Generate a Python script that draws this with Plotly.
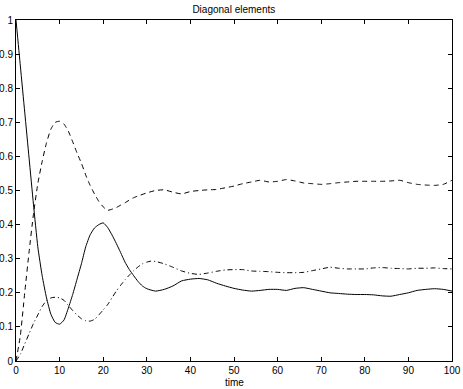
import plotly.graph_objects as go

# values
t_solid = [0, 1, 2, 3, 4, 5, 6, 7, 8, 9, 10, 11, 12, 13, 14, 15, 16, 17, 18, 19,
           20, 21, 22, 23, 24, 25, 26, 27, 28, 29, 30, 32, 34, 36, 38, 40, 42, 44,
           46, 48, 50, 52, 54, 56, 58, 60, 62, 64, 66, 68, 70, 72, 74, 76, 78, 80,
           82, 84, 86, 88, 90, 92, 94, 96, 98, 100]
solid = [1.00, 0.865, 0.73, 0.595, 0.46, 0.335, 0.25, 0.185, 0.137, 0.113, 0.108,
         0.12, 0.155, 0.195, 0.24, 0.285, 0.335, 0.37, 0.39, 0.40, 0.405, 0.392,
         0.37, 0.345, 0.318, 0.29, 0.268, 0.25, 0.233, 0.22, 0.212, 0.205, 0.21,
         0.22, 0.235, 0.24, 0.242, 0.238, 0.228, 0.22, 0.213, 0.208, 0.205, 0.207,
         0.21, 0.21, 0.207, 0.213, 0.215, 0.21, 0.205, 0.2, 0.198, 0.196, 0.195,
         0.195, 0.194, 0.191, 0.19, 0.195, 0.2, 0.207, 0.21, 0.212, 0.21, 0.205]

t_dashed = [0, 1, 2, 3, 4, 5, 6, 7, 8, 9, 10, 11, 12, 13, 14, 15, 16, 17, 18, 19,
            20, 21, 22, 23, 24, 25, 26, 27, 28, 30, 32, 34, 36, 38, 40, 42, 44, 46,
            48, 50, 52, 54, 56, 58, 60, 62, 64, 66, 68, 70, 72, 74, 76, 78, 80, 82,
            84, 86, 88, 90, 92, 94, 96, 98, 100]
dashed = [0.0, 0.075, 0.20, 0.32, 0.43, 0.52, 0.585, 0.64, 0.68, 0.70, 0.703, 0.695,
          0.674, 0.643, 0.61, 0.58, 0.545, 0.515, 0.49, 0.468, 0.452, 0.442, 0.445,
          0.45, 0.457, 0.464, 0.472, 0.479, 0.484, 0.493, 0.50, 0.502, 0.495, 0.49,
          0.497, 0.50, 0.502, 0.503, 0.508, 0.513, 0.52, 0.525, 0.53, 0.525, 0.527,
          0.532, 0.528, 0.522, 0.52, 0.518, 0.52, 0.523, 0.525, 0.527, 0.527, 0.527,
          0.527, 0.528, 0.53, 0.523, 0.518, 0.516, 0.515, 0.518, 0.53]

t_dashdot = [0, 1, 2, 3, 4, 5, 6, 7, 8, 9, 10, 11, 12, 13, 14, 15, 16, 17, 18, 19,
             20, 21, 22, 23, 24, 25, 26, 27, 28, 29, 30, 31, 32, 34, 36, 38, 40, 42,
             44, 46, 48, 50, 52, 54, 56, 58, 60, 62, 64, 66, 68, 70, 72, 74, 76, 78,
             80, 82, 84, 86, 88, 90, 92, 94, 96, 98, 100]
dashdot = [0.0, 0.02, 0.05, 0.08, 0.11, 0.135, 0.16, 0.177, 0.185, 0.187, 0.185,
           0.178, 0.163, 0.148, 0.135, 0.124, 0.118, 0.117, 0.122, 0.135, 0.15,
           0.165, 0.185, 0.205, 0.222, 0.238, 0.252, 0.265, 0.276, 0.285, 0.29,
           0.293, 0.292, 0.285, 0.275, 0.264, 0.257, 0.254, 0.258, 0.263, 0.267,
           0.268, 0.268, 0.264, 0.263, 0.262, 0.26, 0.259, 0.259, 0.26, 0.265, 0.27,
           0.275, 0.272, 0.27, 0.27, 0.27, 0.273, 0.274, 0.272, 0.271, 0.27, 0.272,
           0.272, 0.273, 0.271, 0.27]

xticks = [0, 10, 20, 30, 40, 50, 60, 70, 80, 90, 100]
yticks = [0, 0.1, 0.2, 0.3, 0.4, 0.5, 0.6, 0.7, 0.8, 0.9, 1]
yticklabels = ["0", "0.1", "0.2", "0.3", "0.4", "0.5", "0.6", "0.7", "0.8", "0.9", "1"]

fig = go.Figure()
fig.add_trace(go.Scatter(x=t_solid, y=solid, mode="lines",
                         line=dict(color="black", width=1, shape="spline", smoothing=0.5)))
fig.add_trace(go.Scatter(x=t_dashed, y=dashed, mode="lines",
                         line=dict(color="black", width=1, dash="5px,4px", shape="spline", smoothing=0.5)))
fig.add_trace(go.Scatter(x=t_dashdot, y=dashdot, mode="lines",
                         line=dict(color="black", width=1, dash="5px,3px,1px,3px", shape="spline", smoothing=0.5)))

axis_style = dict(showgrid=False, zeroline=False, showline=True, linecolor="black",
                  linewidth=1, mirror="ticks", ticks="inside", ticklen=4,
                  tickcolor="black", tickfont=dict(size=10, color="black"))

fig.update_layout(
    width=463, height=389,
    margin=dict(l=16, r=11, t=20, b=28),
    paper_bgcolor="white", plot_bgcolor="white",
    font=dict(family="Liberation Sans, Arial, sans-serif", color="black"),
    showlegend=False,
    title=dict(text="Diagonal elements", x=0.505, xanchor="center", y=0.975, yanchor="middle",
               font=dict(size=10, color="black")),
    xaxis=dict(range=[0, 100], tickvals=xticks, automargin=False, **axis_style),
    yaxis=dict(range=[0, 1], tickvals=yticks, ticktext=yticklabels, automargin=False,
               **axis_style),
    annotations=[dict(text="time", x=0.5, y=-0.064, xref="paper", yref="paper",
                      xanchor="center", yanchor="middle", showarrow=False,
                      font=dict(size=10, color="black"))],
)

# the page body has a default 8px margin; drop it so the figure sits at 0,0
fig.write_html("out.html", config={"displayModeBar": False},
               post_script="document.body.style.margin='0';")
